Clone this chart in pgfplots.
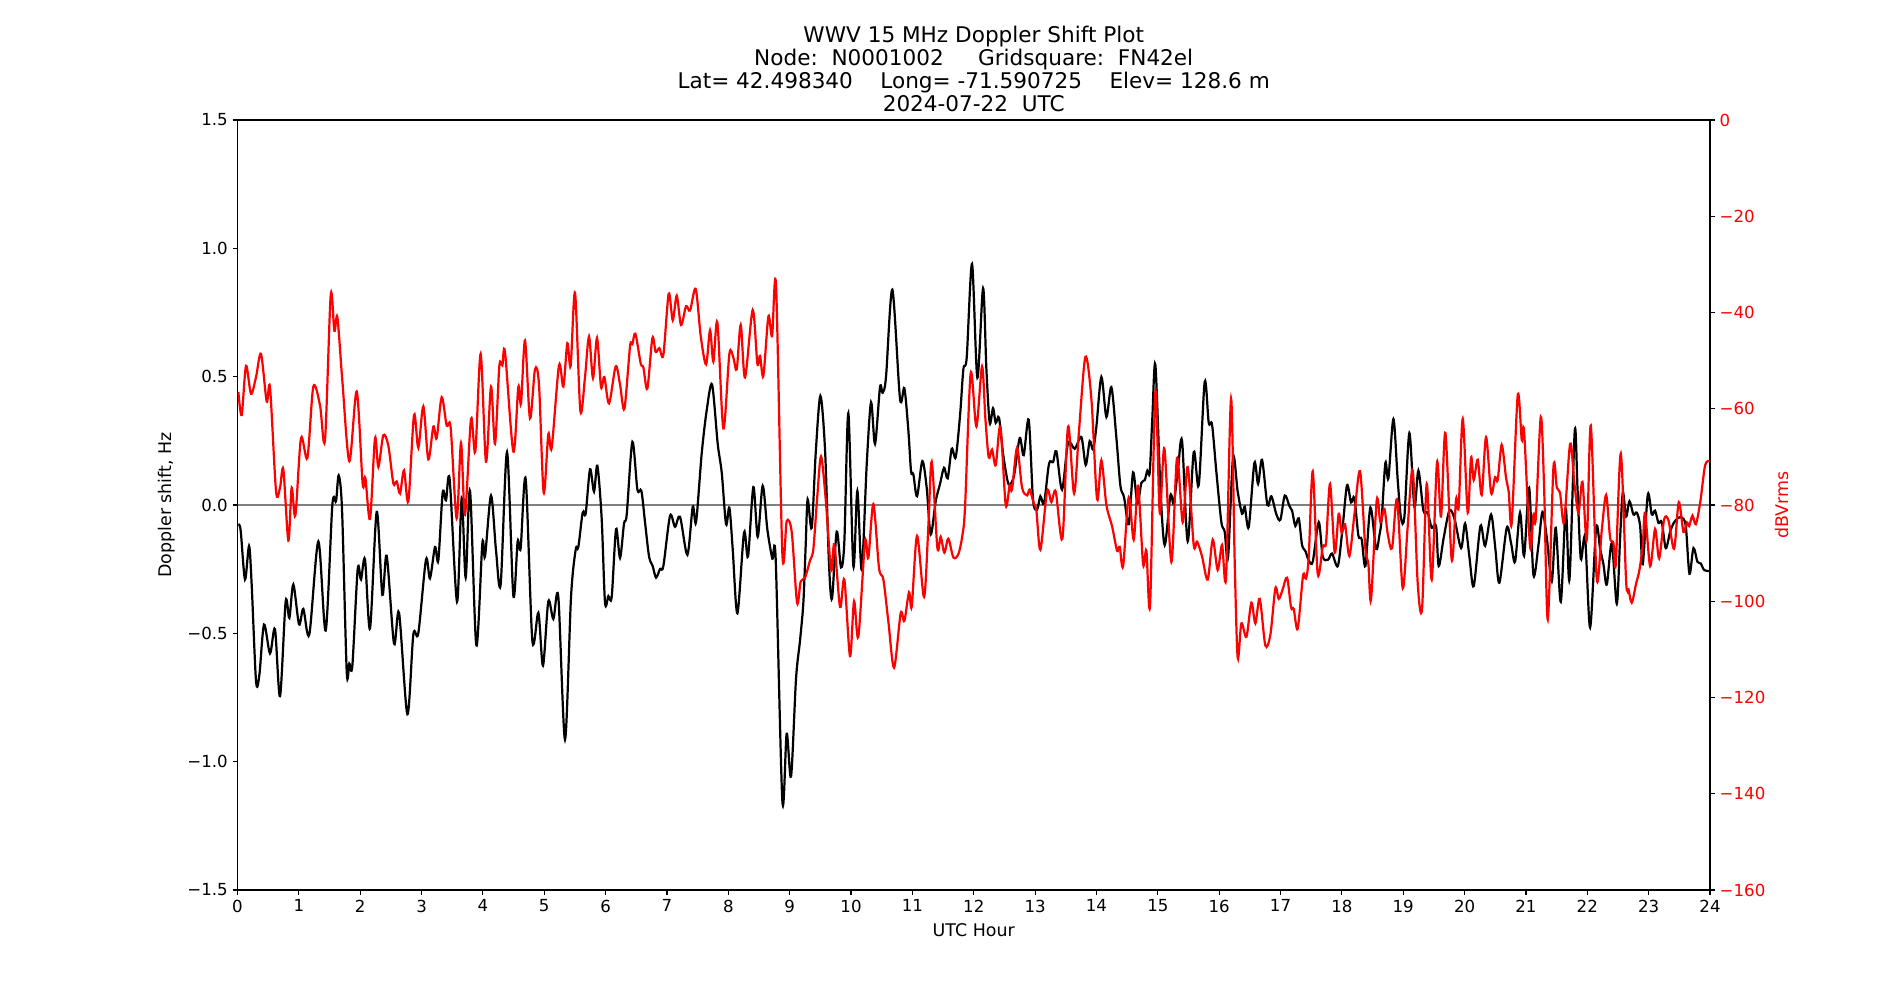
\documentclass[border=0pt]{standalone}
\usepackage{fontspec}
\setmainfont{DejaVu Sans}
\usepackage{pgfplots}
\usepackage{pgfplotstable}
\pgfplotsset{compat=1.18}

% Doppler shift (Hz) against UTC hour
\pgfplotstableread{
h f
0.014 -0.075
0.052 -0.10
0.122 -0.29
0.188 -0.16
0.231 -0.31
0.302 -0.686
0.356 -0.663
0.432 -0.466
0.530 -0.578
0.611 -0.484
0.693 -0.745
0.785 -0.376
0.845 -0.44
0.910 -0.31
1.003 -0.465
1.073 -0.405
1.171 -0.504
1.318 -0.142
1.437 -0.489
1.546 0.0
1.606 0.015
1.649 0.115
1.704 -0.02
1.780 -0.648
1.823 -0.618
1.872 -0.626
1.959 -0.25
2.013 -0.29
2.078 -0.212
2.160 -0.481
2.269 -0.027
2.361 -0.35
2.432 -0.198
2.551 -0.54
2.633 -0.42
2.769 -0.815
2.866 -0.504
2.947 -0.50
3.072 -0.213
3.137 -0.286
3.219 -0.164
3.273 -0.216
3.344 0.048
3.398 0.018
3.458 0.10
3.578 -0.377
3.654 0.027
3.719 -0.283
3.790 0.055
3.893 -0.547
3.991 -0.149
4.034 -0.201
4.132 0.037
4.213 -0.176
4.289 -0.31
4.393 0.206
4.496 -0.353
4.566 -0.142
4.615 -0.168
4.697 0.101
4.806 -0.529
4.904 -0.42
4.979 -0.626
5.066 -0.376
5.148 -0.444
5.229 -0.358
5.338 -0.914
5.436 -0.358
5.512 -0.174
5.555 -0.164
5.626 -0.03
5.675 -0.033
5.746 0.139
5.811 0.052
5.865 0.153
5.935 -0.05
5.99 -0.38
6.045 -0.355
6.099 -0.358
6.17 -0.094
6.235 -0.206
6.30 -0.072
6.344 -0.037
6.436 0.246
6.518 0.06
6.583 0.055
6.642 -0.067
6.708 -0.201
6.767 -0.238
6.822 -0.283
6.887 -0.249
6.941 -0.238
7.05 -0.042
7.131 -0.085
7.213 -0.046
7.333 -0.194
7.42 -0.007
7.474 -0.067
7.566 0.201
7.648 0.37
7.735 0.469
7.827 0.238
7.892 0.127
7.963 -0.075
8.017 -0.01
8.071 -0.171
8.148 -0.422
8.256 -0.107
8.321 -0.201
8.408 0.07
8.479 -0.124
8.56 0.075
8.637 -0.097
8.718 -0.209
8.772 -0.213
8.881 -1.155
8.951 -0.891
9.022 -1.058
9.103 -0.678
9.168 -0.529
9.223 -0.38
9.261 -0.156
9.293 0.022
9.359 -0.089
9.424 0.201
9.50 0.425
9.576 0.216
9.641 -0.231
9.69 -0.365
9.766 -0.104
9.837 -0.243
9.891 -0.142
9.956 0.358
10.038 -0.238
10.103 0.055
10.174 -0.253
10.255 0.156
10.326 0.40
10.391 0.238
10.472 0.459
10.516 0.437
10.57 0.499
10.673 0.839
10.798 0.414
10.869 0.455
10.934 0.291
10.978 0.131
11.016 0.119
11.076 0.034
11.162 0.171
11.233 0.067
11.298 -0.115
11.38 0.015
11.45 0.082
11.516 0.145
11.575 0.104
11.641 0.219
11.706 0.186
11.777 0.35
11.831 0.529
11.885 0.574
11.972 0.939
12.059 0.496
12.152 0.845
12.206 0.529
12.26 0.32
12.314 0.377
12.358 0.32
12.412 0.34
12.477 0.201
12.548 0.097
12.586 0.079
12.657 0.115
12.749 0.261
12.814 0.194
12.896 0.332
12.966 0.022
13.032 -0.018
13.086 0.034
13.146 0.007
13.227 0.161
13.293 0.167
13.347 0.209
13.439 0.06
13.537 0.241
13.646 0.219
13.754 0.265
13.825 0.156
13.89 0.249
13.945 0.216
13.999 0.306
14.08 0.499
14.162 0.343
14.243 0.459
14.325 0.261
14.39 0.075
14.45 0.03
14.526 -0.075
14.597 0.127
14.667 0.007
14.732 0.086
14.787 0.097
14.83 0.134
14.868 0.127
14.91 0.335
14.96 0.547
15.042 0.067
15.112 -0.156
15.205 0.037
15.259 0.007
15.33 0.142
15.395 0.25
15.487 -0.142
15.585 0.206
15.667 0.077
15.764 0.48
15.83 0.32
15.884 0.313
15.955 0.127
16.036 -0.067
16.09 -0.104
16.145 -0.204
16.226 0.186
16.302 0.052
16.373 -0.034
16.417 -0.007
16.482 -0.086
16.574 0.164
16.634 0.082
16.699 0.176
16.786 0.0
16.851 0.034
16.933 -0.037
16.998 -0.057
17.069 0.037
17.145 -0.004
17.188 -0.022
17.242 -0.082
17.297 -0.052
17.351 -0.156
17.405 -0.179
17.46 -0.216
17.525 -0.221
17.623 -0.067
17.688 -0.201
17.775 -0.213
17.84 -0.189
17.935 -0.237
18.014 -0.082
18.084 0.077
18.15 0.01
18.204 0.027
18.269 -0.119
18.323 -0.134
18.383 -0.238
18.465 -0.01
18.557 -0.171
18.611 -0.119
18.649 -0.052
18.709 0.164
18.758 0.104
18.84 0.335
18.91 0.097
18.964 -0.052
19.019 -0.045
19.10 0.28
19.182 -0.007
19.247 0.134
19.329 -0.022
19.399 -0.03
19.464 -0.089
19.535 -0.082
19.578 -0.238
19.66 -0.127
19.752 -0.022
19.834 -0.052
19.943 -0.168
20.008 -0.072
20.078 -0.201
20.149 -0.316
20.258 -0.082
20.334 -0.159
20.432 -0.037
20.502 -0.171
20.567 -0.303
20.687 -0.089
20.758 -0.149
20.823 -0.221
20.904 -0.03
20.97 -0.198
21.052 0.067
21.122 -0.273
21.204 -0.156
21.269 -0.027
21.34 -0.127
21.421 -0.298
21.486 -0.089
21.568 -0.377
21.649 -0.015
21.709 -0.291
21.796 0.291
21.84 0.067
21.894 -0.209
21.964 -0.127
22.046 -0.477
22.144 -0.089
22.209 -0.171
22.263 -0.231
22.318 -0.31
22.399 -0.149
22.481 -0.385
22.535 -0.127
22.579 0.049
22.633 -0.045
22.687 0.015
22.752 -0.037
22.807 -0.03
22.861 -0.082
22.904 -0.231
22.986 0.04
23.051 -0.037
23.105 -0.022
23.16 -0.07
23.214 -0.067
23.279 -0.168
23.35 -0.104
23.404 -0.072
23.47 -0.052
23.54 -0.049
23.605 -0.082
23.665 -0.268
23.73 -0.168
23.795 -0.221
23.85 -0.228
23.904 -0.253
24.0 -0.258
}\doppler

% received signal level (dBVrms) against UTC hour
\pgfplotstableread{
h p
0.014 -56.5
0.068 -61.3
0.139 -51.1
0.220 -56.9
0.302 -53.4
0.383 -48.6
0.476 -58.5
0.530 -55.6
0.628 -77.1
0.693 -76.4
0.747 -72.6
0.829 -87.4
0.883 -76.4
0.943 -82.2
1.035 -66.1
1.139 -70.2
1.236 -55.4
1.345 -59.3
1.426 -66.5
1.519 -36.4
1.579 -43.8
1.628 -41.0
1.709 -54.2
1.823 -70.9
1.943 -56.4
2.040 -75.6
2.084 -74.4
2.160 -82.9
2.241 -66.1
2.296 -72.1
2.377 -65.5
2.459 -67.7
2.540 -75.5
2.595 -75.1
2.649 -77.6
2.714 -72.8
2.785 -79.2
2.877 -61.3
2.947 -68.1
3.029 -59.5
3.11 -70.5
3.192 -63.7
3.246 -66.1
3.328 -57.6
3.409 -63.5
3.474 -63.9
3.572 -82.8
3.643 -67.1
3.708 -82.0
3.806 -62.1
3.876 -68.9
3.963 -48.6
4.050 -71.0
4.132 -55.4
4.197 -67.3
4.268 -51.1
4.317 -51.0
4.36 -48.2
4.496 -68.9
4.577 -55.5
4.621 -58.9
4.686 -45.8
4.767 -62.0
4.849 -51.8
4.914 -55.0
4.990 -77.4
5.066 -65.3
5.121 -68.1
5.240 -51.0
5.311 -55.4
5.376 -46.4
5.43 -51.1
5.501 -35.9
5.588 -60.4
5.664 -53.4
5.729 -45.0
5.794 -53.6
5.860 -45.3
5.925 -55.5
5.979 -53.4
6.056 -58.9
6.164 -51.2
6.235 -55.0
6.306 -60.0
6.398 -47.0
6.436 -46.6
6.485 -44.4
6.572 -50.6
6.615 -51.4
6.68 -55.8
6.762 -45.3
6.816 -48.2
6.876 -47.4
6.941 -48.8
7.028 -36.1
7.094 -41.6
7.159 -36.5
7.229 -42.6
7.311 -38.7
7.376 -39.6
7.468 -35.1
7.55 -44.9
7.637 -50.8
7.702 -43.7
7.756 -50.2
7.822 -42.1
7.919 -64.1
8.017 -48.6
8.082 -49.4
8.137 -51.8
8.202 -42.6
8.272 -53.5
8.397 -39.5
8.473 -50.6
8.517 -49.0
8.571 -53.2
8.653 -40.8
8.713 -44.9
8.778 -34.5
8.881 -90.2
8.952 -83.3
9.033 -85.6
9.12 -100.3
9.179 -95.9
9.25 -95.1
9.332 -91.5
9.386 -89.1
9.451 -78.0
9.511 -69.9
9.587 -78.8
9.674 -93.5
9.728 -88.2
9.821 -101.2
9.891 -95.5
9.983 -111.4
10.049 -100.0
10.119 -107.4
10.228 -87.6
10.282 -91.0
10.364 -79.8
10.456 -93.1
10.527 -95.5
10.608 -104.2
10.701 -113.8
10.809 -102.5
10.869 -104.1
10.945 -98.1
10.989 -101.1
11.076 -86.4
11.19 -99.1
11.26 -84.4
11.315 -71.0
11.407 -88.9
11.461 -86.6
11.521 -89.9
11.586 -87.0
11.668 -90.9
11.749 -90.2
11.814 -86.4
11.858 -80.4
11.95 -52.6
12.043 -63.7
12.135 -51.2
12.19 -62.1
12.244 -70.1
12.298 -68.5
12.358 -71.7
12.434 -63.7
12.521 -80.0
12.586 -75.8
12.624 -76.8
12.706 -68.1
12.787 -76.4
12.869 -78.0
12.912 -76.8
12.977 -79.6
13.021 -81.2
13.086 -89.3
13.195 -77.1
13.265 -79.4
13.336 -77.2
13.445 -87.0
13.537 -63.7
13.635 -77.6
13.716 -64.5
13.82 -49.2
13.918 -58.1
14.01 -78.8
14.08 -70.7
14.162 -80.0
14.254 -84.4
14.336 -89.5
14.379 -88.7
14.434 -92.7
14.526 -78.4
14.607 -87.2
14.678 -76.0
14.76 -92.3
14.814 -89.5
14.874 -100.7
14.96 -56.5
15.031 -81.6
15.107 -68.3
15.221 -91.8
15.313 -70.2
15.406 -83.6
15.487 -72.1
15.585 -88.3
15.64 -87.6
15.721 -90.7
15.813 -95.5
15.895 -87.2
15.976 -93.5
16.047 -88.3
16.112 -95.1
16.194 -57.9
16.254 -92.3
16.302 -111.8
16.362 -104.6
16.444 -107.4
16.525 -100.3
16.59 -104.6
16.661 -99.5
16.753 -109.2
16.835 -106.9
16.916 -97.3
16.971 -99.5
17.036 -97.5
17.107 -95.1
17.172 -101.3
17.215 -101.6
17.28 -105.7
17.367 -94.7
17.416 -95.3
17.46 -90.7
17.525 -73.0
17.606 -94.3
17.688 -88.7
17.742 -87.8
17.807 -75.6
17.884 -89.9
17.948 -81.8
17.997 -85.8
18.052 -84.0
18.122 -90.6
18.204 -82.0
18.296 -73.0
18.383 -89.1
18.432 -92.3
18.475 -99.7
18.568 -79.0
18.628 -83.6
18.693 -80.8
18.747 -86.0
18.818 -89.0
18.899 -78.8
18.992 -97.3
19.073 -84.4
19.155 -72.8
19.236 -96.3
19.307 -101.5
19.383 -75.6
19.464 -95.5
19.551 -71.1
19.616 -82.4
19.687 -65.0
19.79 -91.4
19.861 -78.8
19.904 -80.4
19.97 -62.1
20.051 -81.6
20.105 -70.1
20.149 -74.8
20.214 -70.6
20.279 -77.9
20.35 -65.9
20.432 -77.5
20.497 -74.2
20.54 -74.8
20.605 -67.5
20.676 -74.4
20.719 -77.2
20.768 -83.8
20.866 -57.2
20.932 -66.5
20.97 -64.7
21.068 -88.7
21.122 -82.0
21.16 -82.8
21.242 -61.7
21.296 -76.4
21.356 -103.8
21.448 -72.2
21.503 -76.4
21.557 -77.6
21.622 -83.6
21.72 -67.3
21.79 -75.6
21.856 -81.6
21.921 -75.2
21.992 -87.2
22.057 -63.5
22.155 -95.5
22.236 -85.2
22.307 -77.9
22.372 -86.8
22.426 -87.9
22.464 -92.3
22.546 -69.3
22.633 -95.9
22.671 -97.5
22.725 -100.3
22.796 -96.3
22.85 -93.5
22.904 -88.3
22.942 -81.6
23.024 -92.7
23.105 -85.0
23.171 -91.1
23.252 -83.0
23.323 -83.2
23.415 -89.1
23.491 -79.4
23.567 -85.6
23.622 -83.6
23.66 -84.4
23.714 -82.2
23.768 -84.0
23.839 -79.6
23.921 -71.7
24.0 -70.9
}\power

\begin{document}
\begin{tikzpicture}
\useasboundingbox (-2.375in,-1.1in) rectangle (16.625in,8.9in);
\pgfplotsset{
  panel/.style={
    scale only axis, width=14.725in, height=7.7in,
    at={(0,0)}, anchor=south west,
    xmin=0, xmax=24,
    tick align=outside, major tick length=3.5pt,
    every tick/.style={black, line width=0.8pt},
    axis line style={line width=0.8pt},
    tick label style={font=\fontsize{12}{14}\selectfont},
    /pgf/number format/assume math mode=true,
  }
}
\begin{axis}[panel,
    ymin=-1.5, ymax=1.5,
    xtick={0,1,...,24}, xtick pos=bottom,
    ytick={-1.5,-1,-0.5,0,0.5,1,1.5}, ytick pos=left,
    yticklabels={−1.5,−1.0,−0.5,0.0,0.5,1.0,1.5},
  ]
  \addplot[gray, line width=1pt] coordinates {(0,0) (24,0)};
  \addplot[black, line width=1.6pt, smooth, tension=0.5] table[x=h, y=f] {\doppler};
\end{axis}
\begin{axis}[panel,
    ymin=-160, ymax=0,
    hide x axis, axis y line*=right, ytick pos=right,
    ytick={-160,-140,...,0},
    yticklabels={−160,−140,−120,−100,−80,−60,−40,−20,0},
    yticklabel style={red},
  ]
  \addplot[red, line width=1.6pt, smooth, tension=0.5] table[x=h, y=p] {\power};
\end{axis}

\begin{scope}[font=\fontsize{12.6}{15}\selectfont]
  \node[rotate=90] at (-0.705in,3.85in) {Doppler shift, Hz};
  \node[rotate=90, red] at (15.445in,3.85in) {dBVrms};
  \node at (7.3625in,-0.405in) {UTC Hour};
\end{scope}
\begin{scope}[font=\fontsize{15.6}{18}\selectfont]
  \node[anchor=base] at (7.3625in,8.47in) {WWV 15 MHz Doppler Shift Plot};
  \node[anchor=base] at (7.3625in,8.24in) {Node:~~N0001002~~~~~Gridsquare:~~FN42el};
  \node[anchor=base] at (7.3625in,8.01in) {Lat=~42.498340~~~~Long=~-71.590725~~~~Elev=~128.6~m};
  \node[anchor=base] at (7.3625in,7.78in) {2024-07-22~~UTC};
\end{scope}
\end{tikzpicture}
\end{document}
